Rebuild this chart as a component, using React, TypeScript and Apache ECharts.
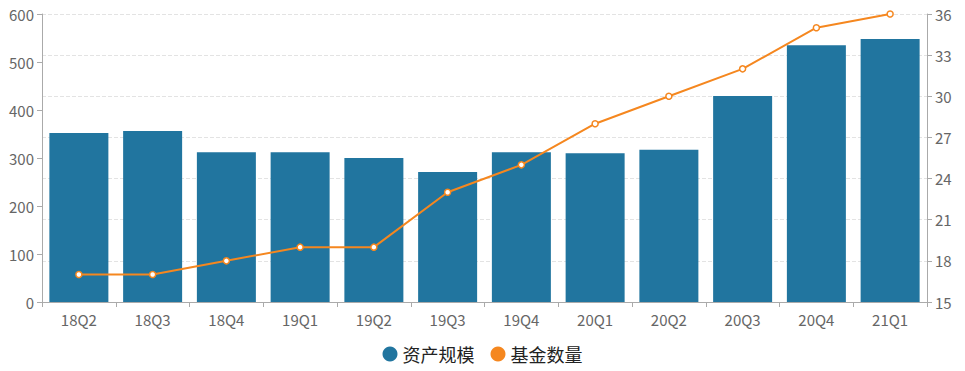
import React, { useEffect, useRef } from "react";
import * as echarts from "echarts";

const categories = ["18Q2", "18Q3", "18Q4", "19Q1", "19Q2", "19Q3", "19Q4", "20Q1", "20Q2", "20Q3", "20Q4", "21Q1"];
const assetScale = [352, 356, 312, 312, 300, 271, 312, 310, 317, 429, 535, 548];
const fundCount = [17, 17, 18, 19, 19, 23, 25, 28, 30, 32, 35, 36];

const FONT = "'Noto Sans CJK SC', 'Noto Sans', sans-serif";

export default function App() {
  const ref = useRef<HTMLDivElement>(null);
  useEffect(() => {
    if (!ref.current) return;
    const chart = echarts.init(ref.current, undefined, { renderer: "svg" });
    const axisLine = { show: true, lineStyle: { color: "#aaa" } };
    chart.setOption({
      animation: false,
      textStyle: { fontFamily: FONT },
      grid: { left: 42, right: 38, top: 14, bottom: 69, containLabel: false },
      legend: {
        bottom: 3,
        left: "center",
        icon: "circle",
        itemWidth: 15,
        itemHeight: 15,
        itemGap: 16,
        textStyle: { fontSize: 18, color: "#222", fontFamily: FONT },
        data: [
          { name: "资产规模", itemStyle: { color: "#21759f" } },
          { name: "基金数量", itemStyle: { color: "#f5871f", borderWidth: 0 } },
        ],
      },
      xAxis: {
        type: "category",
        data: categories,
        axisLine,
        axisTick: { show: true, lineStyle: { color: "#aaa" } },
        axisLabel: { color: "#666", fontSize: 15, margin: 10 },
      },
      yAxis: [
        {
          type: "value",
          min: 0,
          max: 600,
          interval: 100,
          axisLine,
          axisTick: { show: true, lineStyle: { color: "#aaa" } },
          axisLabel: { color: "#666", fontSize: 15, margin: 8 },
          splitLine: { show: false },
        },
        {
          type: "value",
          min: 15,
          max: 36,
          interval: 3,
          axisLine,
          axisTick: { show: true, lineStyle: { color: "#aaa" } },
          axisLabel: { color: "#666", fontSize: 15, margin: 8 },
          splitLine: { show: true, lineStyle: { color: "#e3e3e3", type: "dashed" } },
        },
      ],
      series: [
        {
          name: "资产规模",
          type: "bar",
          data: assetScale,
          barWidth: "80%",
          itemStyle: { color: "#21759f" },
        },
        {
          name: "基金数量",
          type: "line",
          yAxisIndex: 1,
          data: fundCount,
          symbol: "circle",
          symbolSize: 6,
          lineStyle: { color: "#f5871f", width: 2 },
          itemStyle: { color: "#fff", borderColor: "#f5871f", borderWidth: 1.5 },
        },
      ],
    });
    return () => chart.dispose();
  }, []);
  return <div ref={ref} style={{ width: 965, height: 371, position: "absolute", left: 0, top: 0 }} />;
}
